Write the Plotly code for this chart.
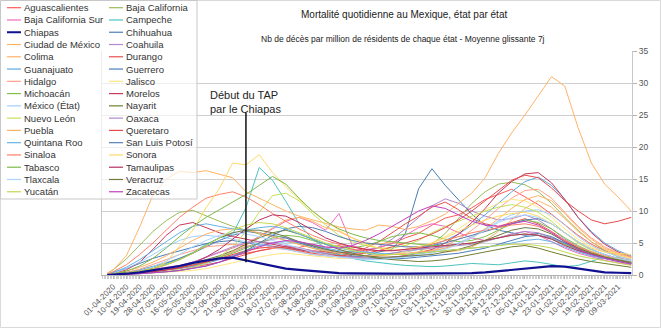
import plotly.graph_objects as go
import pandas as pd

# ---------------- data (7-day avg deaths per million, read every 9 days) ----------------
dates = (["2020-03-28"]
         + [d.strftime("%Y-%m-%d") for d in pd.date_range("2020-04-01", periods=39, freq="9D")]
         + ["2021-03-18"])
tick_dates = [d.strftime("%Y-%m-%d") for d in pd.date_range("2020-04-01", periods=39, freq="9D")]
tick_labels = [d.strftime("%d-%m-%Y") for d in pd.date_range("2020-04-01", periods=39, freq="9D")]

aguascalientes = [0,0.1,0.2,0.3,0.5,0.8,1.0,1.5,2.0,2.6,3.0,3.4,3.8,4.2,4.5,4.3,4.8,4.2,4.6,4.0,3.8,4.3,4.9,5.8,6.5,7.8,8.9,9.4,10.5,11.8,12.6,13.4,12.2,11.0,9.5,7.8,6.2,4.8,3.8,3.0,2.4]
baja_california = [0.2,0.8,2.5,4.6,6.8,8.5,9.8,10.1,9.2,8.4,7.6,7.0,6.4,6.0,5.4,4.8,4.2,3.6,3.2,2.8,2.6,2.5,2.7,3.0,3.6,4.8,6.5,8.8,11.2,13.0,14.2,14.5,14.1,13.0,11.2,9.0,7.0,5.2,3.8,2.8,2.1]
baja_california_sur = [0,0.1,0.3,0.6,0.9,1.2,1.5,2.0,2.8,3.5,4.2,5.0,6.0,7.2,8.4,9.0,8.2,7.0,9.6,4.6,4.0,4.2,5.0,6.2,7.4,8.0,7.6,6.6,5.8,5.4,5.8,6.4,6.8,6.2,5.2,4.2,3.4,2.8,2.3,1.9,1.6]
campeche = [0,0.1,0.3,0.7,1.2,1.8,2.6,3.5,4.8,5.8,6.4,10.5,16.8,14.8,11.5,8.0,5.6,4.2,3.2,2.6,2.2,1.9,1.7,1.5,1.4,1.3,1.4,1.6,1.8,1.7,1.6,1.9,2.2,2.0,1.6,1.3,1.5,2.2,2.8,2.4,2.0]
chiapas = [0,0.05,0.2,0.4,0.7,1.0,1.4,1.9,2.3,2.6,2.7,2.3,1.9,1.4,1.0,0.8,0.6,0.4,0.3,0.25,0.2,0.2,0.2,0.2,0.2,0.2,0.25,0.3,0.3,0.4,0.6,0.8,1.0,1.2,1.4,1.3,1.0,0.6,0.4,0.35,0.3]
chihuahua = [0.1,0.4,1.0,1.8,2.6,3.2,3.8,4.4,4.9,5.2,5.4,5.0,4.8,4.5,4.2,3.9,3.6,3.3,3.0,2.8,3.0,3.6,4.0,6.5,13.5,16.6,14.0,11.8,9.5,7.8,7.0,6.6,6.2,6.5,6.0,5.0,4.0,3.2,2.6,2.2,1.8]
ciudad_de_mexico = [0.3,0.8,3.0,7.5,12.5,15.0,16.2,16.0,16.3,15.8,15.2,13.0,12.0,11.0,10.0,9.2,8.6,8.0,7.5,7.2,7.0,7.8,7.6,7.1,7.6,8.5,9.5,11.2,12.8,15.2,19.0,22.2,25.0,28.0,31.0,29.5,23.0,17.5,14.2,12.2,10.0]
coahuila = [0,0.1,0.3,0.5,0.8,1.0,1.3,1.6,2.0,2.8,3.6,4.4,5.0,5.6,5.8,5.2,4.6,4.0,3.6,3.4,3.6,4.4,5.6,7.2,9.0,10.8,11.9,11.2,10.0,9.2,8.6,8.8,9.4,8.6,7.2,5.6,4.4,3.5,2.8,2.3,1.9]
colima = [0,0.0,0.1,0.3,0.5,0.8,1.1,1.5,2.0,2.8,3.6,4.6,6.0,7.4,8.6,9.0,8.4,7.4,6.8,5.8,5.0,4.8,5.2,4.6,4.0,3.8,3.6,3.8,4.4,5.4,6.8,8.6,10.4,11.6,10.6,8.8,6.8,5.2,4.0,3.2,2.6]
durango = [0,0.1,0.2,0.4,0.6,0.8,1.0,1.3,1.6,2.0,2.6,3.2,3.8,4.2,4.4,4.2,3.8,3.6,3.4,3.6,4.2,5.2,6.6,8.0,9.2,10.6,11.4,10.2,8.8,8.0,7.6,8.2,8.8,8.0,6.8,5.4,4.2,3.4,2.8,2.3,1.9]
guanajuato = [0,0.1,0.2,0.4,0.6,0.8,1.0,1.4,1.8,2.4,3.0,3.8,4.6,5.0,5.2,5.0,4.6,4.2,3.8,3.6,3.4,3.2,3.4,3.6,4.0,4.6,5.4,6.4,7.8,9.4,11.2,13.0,14.6,15.3,14.0,11.8,9.0,6.8,5.0,3.8,3.0]
guerrero = [0,0.1,0.4,0.8,1.3,1.9,2.6,3.4,4.4,5.4,6.2,6.8,6.6,6.2,5.8,5.0,4.4,3.8,3.4,3.0,2.8,2.6,2.5,2.6,2.8,3.0,3.2,3.4,3.8,4.2,4.8,5.4,6.0,6.2,5.8,5.0,4.0,3.2,2.6,2.2,1.8]
hidalgo = [0,0.1,0.4,0.9,1.6,2.4,3.2,3.8,4.4,4.6,4.8,4.6,4.4,4.2,4.0,3.6,3.2,3.0,2.8,2.6,2.5,2.6,2.8,3.0,3.4,3.8,4.6,5.6,7.0,8.6,10.4,12.0,13.2,13.4,12.0,9.8,7.6,5.8,4.4,3.4,2.8]
jalisco = [0,0.1,0.1,0.2,0.3,0.4,0.5,0.7,1.0,1.4,1.9,2.4,2.8,3.2,3.4,3.2,3.0,2.8,2.6,2.6,2.8,3.0,3.2,3.6,4.2,5.0,6.0,7.2,8.6,10.2,11.2,11.8,11.6,10.6,9.0,7.2,5.6,4.4,3.6,3.0,2.6]
michoacan = [0,0.1,0.2,0.4,0.6,0.9,1.2,1.6,2.2,2.8,3.4,4.2,5.0,5.8,6.2,6.0,5.4,4.8,4.4,4.2,4.6,5.2,6.0,6.4,6.6,6.2,5.6,5.2,5.4,6.0,7.0,8.0,8.6,8.2,7.2,5.8,4.6,3.6,2.8,2.2,1.8]
morelos = [0,0.2,0.8,2.0,4.0,6.2,7.8,8.2,7.4,6.6,6.0,5.6,5.2,4.8,4.4,4.0,3.6,3.2,3.0,2.8,2.6,2.6,2.8,3.0,3.4,4.0,5.0,6.4,8.2,10.4,12.8,14.6,15.8,16.0,14.4,11.8,9.0,6.6,4.8,3.6,2.8]
mexico_etat = [0.1,0.3,1.0,2.0,3.2,4.4,5.4,6.0,6.2,6.0,5.6,5.2,4.8,4.4,4.0,3.6,3.2,3.0,2.8,2.7,2.6,2.6,2.7,2.9,3.2,3.6,4.2,5.0,6.0,7.2,8.4,9.4,10.0,10.2,9.4,7.8,6.0,4.6,3.6,2.9,2.4]
nayarit = [0,0.1,0.2,0.4,0.7,1.0,1.4,1.9,2.4,3.0,3.8,4.8,5.8,6.6,7.0,6.4,5.6,4.8,4.0,3.4,3.0,2.6,2.4,2.2,2.1,2.2,2.4,2.8,3.2,3.6,4.0,4.4,4.6,4.2,3.6,3.0,2.5,2.1,1.8,1.5,1.2]
nuevo_leon = [0,0.1,0.2,0.3,0.4,0.6,0.8,1.2,1.8,2.8,4.4,6.8,9.8,12.4,12.8,11.6,9.6,7.8,6.2,5.2,4.6,4.2,4.2,4.6,5.4,6.6,7.6,8.4,9.2,10.0,10.6,11.0,10.6,9.8,8.4,6.6,5.0,3.8,2.9,2.3,1.8]
oaxaca = [0,0.1,0.2,0.4,0.7,1.0,1.4,2.0,2.8,3.6,4.4,5.0,5.2,5.0,4.6,4.2,3.8,3.4,3.0,2.8,2.8,3.0,3.4,3.8,4.0,4.2,4.4,4.6,4.8,5.2,5.8,6.4,6.8,6.6,5.8,4.8,3.8,3.0,2.5,2.1,1.8]
puebla = [0,0.2,0.6,1.2,2.0,3.0,4.2,5.4,6.4,7.0,7.2,7.0,6.6,6.0,5.4,4.8,4.2,3.8,3.4,3.2,3.0,3.0,3.2,3.4,3.6,3.8,4.2,4.8,5.8,7.2,8.8,10.4,11.8,12.4,11.6,9.6,7.4,5.6,4.2,3.4,2.8]
queretaro = [0,0.0,0.1,0.3,0.5,0.8,1.1,1.5,2.0,2.6,3.2,3.8,4.2,4.4,4.2,3.8,3.4,3.2,3.0,3.2,3.4,3.8,4.4,5.0,5.6,6.4,7.4,8.6,10.0,11.6,13.2,14.8,15.6,15.2,13.6,11.6,10.0,8.6,8.0,8.4,9.0]
quintana_roo = [0.1,0.4,1.2,2.4,3.8,5.2,6.6,7.6,8.0,7.6,7.2,7.0,7.4,7.6,7.2,6.4,5.6,4.8,4.2,3.8,3.6,3.4,3.2,3.2,3.4,3.6,3.8,4.0,4.2,4.4,4.6,5.0,5.4,5.6,5.2,4.4,3.6,3.0,2.6,2.2,1.9]
san_luis_potosi = [0,0.0,0.1,0.2,0.3,0.5,0.7,1.0,1.4,2.0,2.8,3.8,5.0,6.2,7.2,7.6,7.4,6.8,6.0,5.4,5.0,4.8,4.6,4.4,4.4,4.6,5.0,5.6,6.2,6.8,7.4,8.0,8.6,8.8,8.0,6.6,5.2,4.0,3.2,2.6,2.2]
sinaloa = [0.1,0.5,1.6,3.2,5.0,7.0,9.0,10.6,12.0,12.6,13.0,12.2,11.0,9.6,8.4,7.2,6.2,5.4,4.8,4.4,4.0,3.8,3.8,4.0,4.4,4.8,5.4,6.0,6.6,7.0,7.4,7.8,8.0,7.6,6.6,5.4,4.4,3.6,3.0,2.6,2.2]
sonora = [0,0.1,0.2,0.5,1.0,2.0,4.5,7.0,10.5,13.5,17.5,17.2,18.8,16.0,13.8,11.8,10.0,8.5,7.0,5.8,4.8,4.2,3.9,4.0,4.4,5.0,5.8,6.8,7.8,8.6,9.2,9.6,9.8,9.2,8.0,6.6,5.2,4.2,3.6,3.4,3.2]
tabasco = [0,0.2,0.6,1.4,2.6,4.2,6.0,7.6,9.0,10.2,11.4,12.6,14.0,15.4,14.2,12.0,10.0,8.4,7.2,6.4,5.8,5.4,5.2,5.0,4.8,4.6,4.6,4.8,5.0,5.4,5.8,6.2,6.4,6.2,5.6,4.8,4.0,3.4,2.8,2.4,2.0]
tamaulipas = [0,0.1,0.2,0.3,0.5,0.8,1.2,1.8,2.8,4.0,5.6,7.2,8.6,9.4,9.2,8.2,7.0,5.8,5.0,4.4,4.0,3.8,3.8,4.0,4.2,4.4,4.6,4.8,5.0,5.4,5.8,6.2,6.4,6.2,5.6,4.6,3.8,3.2,2.7,2.3,1.9]
tlaxcala = [0,0.1,0.3,0.7,1.3,2.2,3.2,4.4,5.4,6.2,6.6,6.4,6.0,5.4,4.8,4.2,3.6,3.2,2.8,2.6,2.4,2.4,2.6,2.8,3.0,3.4,4.0,4.8,5.8,7.0,8.2,9.0,9.4,9.0,8.0,6.6,5.2,4.0,3.2,2.6,2.2]
veracruz = [0,0.1,0.3,0.6,1.0,1.6,2.4,3.4,4.6,5.8,6.6,7.0,7.0,6.6,6.0,5.2,4.6,4.0,3.6,3.2,3.0,2.8,2.8,2.9,3.0,3.2,3.6,4.0,4.6,5.4,6.2,7.0,7.4,7.2,6.4,5.2,4.2,3.4,2.8,2.3,1.9]
yucatan = [0,0.1,0.3,0.6,1.0,1.6,2.4,3.4,4.6,5.8,7.0,7.8,8.2,8.0,7.4,6.6,5.8,5.0,4.4,3.8,3.4,3.2,3.2,3.2,3.4,3.6,3.8,4.0,4.2,4.4,4.6,4.8,4.8,4.6,4.2,3.6,3.0,2.6,2.2,1.8,1.5]
zacatecas = [0,0.0,0.1,0.2,0.3,0.5,0.7,1.0,1.4,2.0,2.8,3.6,4.4,5.0,5.4,5.2,4.8,4.4,4.2,4.6,5.4,6.4,7.6,8.8,10.0,10.8,10.4,9.4,8.4,7.8,7.6,8.0,8.4,7.8,6.6,5.2,4.0,3.2,2.6,2.1,1.7]

state_names = ["Aguascalientes", "Baja California", "Baja California Sur", "Campeche", "Chiapas",
               "Chihuahua", "Ciudad de México", "Coahuila", "Colima", "Durango", "Guanajuato",
               "Guerrero", "Hidalgo", "Jalisco", "Michoacán", "Morelos", "México (État)", "Nayarit",
               "Nuevo León", "Oaxaca", "Puebla", "Queretaro", "Quintana Roo", "San Luis Potosí",
               "Sinaloa", "Sonora", "Tabasco", "Tamaulipas", "Tlaxcala", "Veracruz", "Yucatán", "Zacatecas"]
state_values = [aguascalientes, baja_california, baja_california_sur, campeche, chiapas, chihuahua,
                ciudad_de_mexico, coahuila, colima, durango, guanajuato, guerrero, hidalgo, jalisco,
                michoacan, morelos, mexico_etat, nayarit, nuevo_leon, oaxaca, puebla, queretaro,
                quintana_roo, san_luis_potosi, sinaloa, sonora, tabasco, tamaulipas, tlaxcala,
                veracruz, yucatan, zacatecas]
state_colors = ["#ff5a5a", "#9bbb59", "#f06bc0", "#4cc4c0", "#101090", "#4a7eb5", "#ffb366", "#b088cc",
                "#ffb366", "#e85050", "#5fa8e0", "#4d7fb8", "#ffa08a", "#ffe680", "#7fc14b", "#c8385a",
                "#9fd0ff", "#707f30", "#c5e05a", "#b08ac8", "#ffb266", "#e84a4a", "#66b3e6", "#5580b0",
                "#ff7f66", "#ffd966", "#7dba4c", "#b83060", "#aad4ff", "#6e7a40", "#c3d94e", "#c040c0"]

title_text = "Mortalité quotidienne au Mexique, état par état"
subtitle_text = "Nb de décès par million de résidents de chaque état - Moyenne glissante 7j"
annot_text = "Début du TAP<br>par le Chiapas"
annot_date = "2020-06-30"

# ---------------- layout geometry ----------------
W, H = 661, 328
L, R, T, B = 102, 29, 51, 53
PW, PH = W - L - R, H - T - B
FONT = "Liberation Sans, Arial, sans-serif"

def px(x):
    return (x - L) / PW

def py(y):
    return (H - B - y) / PH

fig = go.Figure()

order = [i for i in range(len(state_names)) if state_names[i] != "Chiapas"] + [state_names.index("Chiapas")]
for i in order:
    name = state_names[i]
    fig.add_trace(go.Scatter(
        x=dates, y=state_values[i], mode="lines", name=name,
        line=dict(color=state_colors[i], width=2.2 if name == "Chiapas" else 1),
        showlegend=False,
    ))

shapes = []
annotations = []

# frame around the whole image
shapes.append(dict(type="rect", xref="paper", yref="paper", x0=px(0.5), x1=px(660.5),
                   y0=py(327.5), y1=py(0.5), line=dict(color="#d9d9d9", width=1), layer="below"))

# annotation line
chiapas_at = chiapas[dates.index(annot_date)]
shapes.append(dict(type="line", xref="x", yref="y", x0=annot_date, x1=annot_date,
                   y0=chiapas_at - 0.3, y1=25.3, line=dict(color="#111111", width=1.5), layer="above"))
annotations.append(dict(xref="x", yref="y", x="2020-06-04", y=27.1, text=annot_text, showarrow=False,
                        xanchor="left", yanchor="middle", align="left",
                        font=dict(family=FONT, size=11, color="#222222")))

# custom legend (two columns, row-major)
shapes.append(dict(type="rect", xref="paper", yref="paper", x0=px(0.5), x1=px(197),
                   y0=py(199), y1=py(0.5), fillcolor="rgba(255,255,255,0.65)",
                   line=dict(color="#c8c8c8", width=1), layer="above"))
row0, rowh = 7.7, 12.27
for k, (name, color) in enumerate(zip(state_names, state_colors)):
    col, row = k % 2, k // 2
    yy = row0 + row * rowh
    x0, x1, xt = (7, 21, 22) if col == 0 else (109, 123, 124)
    shapes.append(dict(type="line", xref="paper", yref="paper", x0=px(x0), x1=px(x1), y0=py(yy), y1=py(yy),
                       line=dict(color=color, width=2 if name == "Chiapas" else 1.2), layer="above"))
    annotations.append(dict(xref="paper", yref="paper", x=px(xt), y=py(yy), text=name, showarrow=False,
                            xanchor="left", yanchor="middle",
                            font=dict(family=FONT, size=9.5, color="#333333")))

# titles
annotations.append(dict(xref="paper", yref="paper", x=px(404), y=py(15), text=title_text, showarrow=False,
                        xanchor="center", yanchor="middle", font=dict(family=FONT, size=10, color="#222222")))
annotations.append(dict(xref="paper", yref="paper", x=px(403), y=py(39), text=subtitle_text, showarrow=False,
                        xanchor="center", yanchor="middle", font=dict(family=FONT, size=8.5, color="#222222")))

fig.update_layout(
    width=W, height=H, template="none",
    margin=dict(l=L, r=R, t=T, b=B, pad=0),
    paper_bgcolor="white", plot_bgcolor="white",
    font=dict(family=FONT, color="#444444"),
    showlegend=False,
    shapes=shapes, annotations=annotations,
    xaxis=dict(type="date", range=["2020-03-24 12:00", "2021-03-18 12:00"],
               tickmode="array", tickvals=tick_dates, ticktext=tick_labels, tickangle=-45,
               tickfont=dict(family=FONT, size=8, color="#555555"),
               ticks="outside", ticklen=3, tickcolor="#b3b3b3",
               showline=True, linecolor="#b3b3b3", linewidth=1, showgrid=False, zeroline=False,
               automargin=False,
               minor=dict(tickmode="linear", tick0="2020-04-01", dtick=86400000, ticks="outside",
                          ticklen=3, tickcolor="#cfcfcf", showgrid=False)),
    yaxis=dict(side="right", range=[0, 35], dtick=5, tick0=0,
               tickfont=dict(family=FONT, size=8.5, color="#555555"),
               ticks="outside", ticklen=4, tickcolor="#b3b3b3",
               showline=True, mirror=True, linecolor="#c8c8c8", linewidth=1,
               showgrid=True, gridcolor="#cfcfcf", gridwidth=1.2, zeroline=False, automargin=False),
)

fig.write_html("out.html")
